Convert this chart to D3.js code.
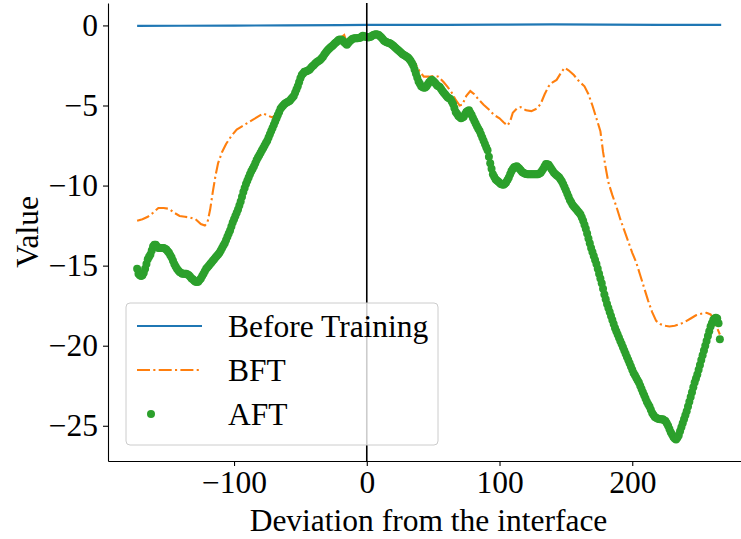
<!DOCTYPE html>
<html>
<head>
<meta charset="utf-8">
<script src="https://cdn.jsdelivr.net/npm/d3@7"></script>
<style>
  html, body { margin: 0; padding: 0; background: #fff; }
  svg { display: block; }
  text { font-family: "Liberation Serif", "Times New Roman", serif; fill: #000; }
</style>
</head>
<body>
<svg id="chart" width="741" height="539"></svg>
<script>
// Baseline profile (before training): flat near zero
const beforeX = [-173, -140, -100, -60, -20, 0, 20, 60, 100, 140, 180, 220, 267];
const beforeY = [-0.03, -0.02, -0.01, 0.0, 0.02, 0.03, 0.03, 0.04, 0.05, 0.06, 0.05, 0.04, 0.03];

// BFT profile
const bftX = [-173, -169, -165, -161, -157, -153, -149, -145, -141, -137, -133, -129, -125, -122, -120,
  -118, -116, -114, -112, -109, -106, -102, -98, -94, -90, -86, -82, -78, -74, -71, -68, -64, -61,
  -57, -53, -49, -45, -41, -37, -33, -29, -25, -21, -17, -15, -11, -7, -3, 1, 5, 9, 13, 17, 21, 25,
  29, 33, 36, 40, 43, 47, 51, 54, 58, 61, 64, 67, 70, 72, 75, 78, 81, 84, 88, 92, 96, 100, 103, 106,
  108, 110, 113, 116, 120, 124, 128, 131, 134, 137, 140, 143, 146, 149, 152, 156, 160, 164, 167, 170,
  173, 176, 178, 180, 182, 185, 188, 191, 194, 197, 200, 203, 206, 209, 212, 215, 218, 221, 224, 228,
  232, 236, 240, 244, 248, 252, 256, 259, 261, 263, 266];
const bftY = [-12.2, -12.1, -11.95, -11.7, -11.4, -11.4, -11.45, -11.7, -11.9, -11.95, -12.0, -12.1, -12.4, -12.5, -12.3,
  -11.5, -10.4, -9.4, -8.6, -7.9, -7.4, -6.9, -6.5, -6.3, -6.1, -5.9, -5.7, -5.5, -5.65, -5.75, -5.5, -5.15, -4.9,
  -4.6, -4.0, -3.1, -2.85, -2.55, -2.25, -1.95, -1.5, -1.15, -0.85, -0.6, -1.1, -0.85, -0.75, -0.65, -0.7, -0.55, -0.55, -0.9, -1.1, -1.3, -1.6,
  -1.85, -2.1, -2.3, -2.9, -3.2, -3.2, -3.15, -3.2, -3.55, -3.85, -4.2, -4.65, -5.0, -4.95, -4.4, -4.1, -4.3, -4.6, -4.95, -5.25, -5.6, -5.8, -6.05, -6.25,
  -6.0, -5.45, -5.2, -5.1, -5.3, -5.35, -5.2, -4.9, -4.3, -3.8, -3.55, -3.4, -3.0, -2.65, -2.8, -3.1, -3.5, -3.8, -4.3, -5.0,
  -5.8, -6.6, -7.9, -8.9, -9.8, -10.6, -11.3, -12.1, -12.8, -13.5, -14.2, -14.8, -15.6, -16.4, -17.2, -17.9, -18.45, -18.65, -18.75, -18.8,
  -18.75, -18.65, -18.5, -18.3, -18.1, -18.0, -17.95, -18.05, -18.3, -18.7, -19.3];

// AFT profile, one sample per unit from -173 to 266
const aftStart = -173, aftStep = 1;
const aftY = [
  -15.2, -15.5, -15.6, -15.65, -15.6, -15.45, -15.2, -14.9, -14.6, -14.45,
  -14.3, -14.05, -13.8, -13.7, -13.7, -13.8, -13.9, -13.9, -13.9, -13.9,
  -13.9, -13.95, -14.0, -14.1, -14.2, -14.35, -14.5, -14.7, -14.9, -15.05,
  -15.2, -15.3, -15.4, -15.45, -15.5, -15.5, -15.5, -15.5, -15.55, -15.6,
  -15.7, -15.8, -15.85, -15.95, -16.0, -16.02, -16.0, -15.9, -15.8, -15.65,
  -15.5, -15.35, -15.2, -15.1, -15.0, -14.9, -14.8, -14.7, -14.6, -14.5,
  -14.4, -14.3, -14.2, -14.05, -13.9, -13.75, -13.6, -13.4, -13.2, -13.0,
  -12.8, -12.55, -12.3, -12.1, -11.9, -11.7, -11.5, -11.25, -11.0, -10.7,
  -10.4, -10.15, -9.9, -9.7, -9.5, -9.3, -9.1, -8.95, -8.8, -8.6,
  -8.4, -8.25, -8.1, -7.95, -7.8, -7.65, -7.5, -7.35, -7.2, -7.0,
  -6.8, -6.6, -6.4, -6.2, -6.0, -5.8, -5.6, -5.4, -5.2, -5.1,
  -5.0, -4.9, -4.85, -4.8, -4.75, -4.7, -4.6, -4.5, -4.4, -4.2,
  -4.0, -3.8, -3.55, -3.3, -3.1, -3.0, -2.9, -2.88, -2.85, -2.8,
  -2.75, -2.65, -2.55, -2.48, -2.4, -2.32, -2.25, -2.2, -2.15, -2.05,
  -1.95, -1.82, -1.7, -1.6, -1.5, -1.42, -1.35, -1.28, -1.2, -1.12,
  -1.05, -0.97, -0.9, -0.88, -0.9, -0.97, -1.05, -1.13, -1.2, -1.1,
  -1.0, -0.92, -0.85, -0.82, -0.8, -0.8, -0.8, -0.78, -0.77, -0.7,
  -0.65, -0.67, -0.7, -0.72, -0.75, -0.73, -0.7, -0.65, -0.6, -0.57,
  -0.55, -0.57, -0.6, -0.67, -0.75, -0.85, -0.95, -1.0, -1.05, -1.08,
  -1.1, -1.15, -1.2, -1.27, -1.35, -1.42, -1.5, -1.57, -1.65, -1.72,
  -1.8, -1.85, -1.9, -1.95, -2.0, -2.1, -2.2, -2.35, -2.5, -2.75,
  -3.0, -3.25, -3.5, -3.65, -3.8, -3.85, -3.9, -3.87, -3.8, -3.68,
  -3.55, -3.47, -3.4, -3.47, -3.55, -3.65, -3.75, -3.8, -3.85, -3.97,
  -4.1, -4.2, -4.3, -4.4, -4.5, -4.55, -4.6, -4.75, -4.9, -5.15,
  -5.4, -5.52, -5.65, -5.72, -5.8, -5.75, -5.7, -5.55, -5.4, -5.35,
  -5.3, -5.45, -5.6, -5.78, -5.95, -6.12, -6.3, -6.45, -6.6, -6.8,
  -7.0, -7.2, -7.4, -7.6, -7.8, -8.2, -8.6, -8.95, -9.3, -9.45,
  -9.6, -9.68, -9.75, -9.82, -9.9, -9.93, -9.95, -9.88, -9.8, -9.65,
  -9.5, -9.3, -9.1, -8.97, -8.85, -8.82, -8.8, -8.87, -8.95, -9.05,
  -9.15, -9.2, -9.25, -9.28, -9.3, -9.3, -9.3, -9.3, -9.3, -9.3,
  -9.3, -9.3, -9.3, -9.25, -9.2, -9.08, -8.95, -8.8, -8.65, -8.67,
  -8.7, -8.82, -8.95, -9.08, -9.2, -9.28, -9.35, -9.42, -9.5, -9.62,
  -9.75, -9.92, -10.1, -10.3, -10.5, -10.7, -10.9, -11.05, -11.2, -11.3,
  -11.4, -11.5, -11.6, -11.7, -11.8, -12.0, -12.2, -12.45, -12.7, -13.0,
  -13.3, -13.6, -13.9, -14.15, -14.4, -14.65, -14.9, -15.2, -15.5, -15.8,
  -16.1, -16.45, -16.8, -17.1, -17.4, -17.65, -17.9, -18.15, -18.4, -18.65,
  -18.9, -19.1, -19.3, -19.5, -19.7, -19.9, -20.1, -20.3, -20.5, -20.7,
  -20.9, -21.1, -21.3, -21.5, -21.7, -21.85, -22.0, -22.15, -22.3, -22.5,
  -22.7, -22.9, -23.1, -23.3, -23.5, -23.65, -23.8, -24.0, -24.2, -24.33,
  -24.45, -24.5, -24.55, -24.58, -24.6, -24.6, -24.6, -24.65, -24.7, -24.85,
  -25.0, -25.2, -25.4, -25.55, -25.7, -25.8, -25.85, -25.75, -25.6, -25.35,
  -25.1, -24.85, -24.6, -24.35, -24.1, -23.8, -23.5, -23.2, -22.9, -22.6,
  -22.3, -22.05, -21.8, -21.5, -21.2, -20.9, -20.6, -20.3, -20.0, -19.7,
  -19.4, -19.1, -18.8, -18.6, -18.4, -18.3, -18.25, -18.3, -18.6, -19.6
];

const xTicks = [-100, 0, 100, 200];
const yTicks = [0, -5, -10, -15, -20, -25];
const seriesNames = ["Before Training", "BFT", "AFT"];
const colors = ["#1f77b4", "#ff7f0e", "#2ca02c"];

const FONT = '"Liberation Serif", "Times New Roman", serif';
const FS = "31.5px";
const DASHDOT = "13,3.3,2.1,3.3";

const svg = d3.select("#chart");
const plot = { left: 108, right: 749, top: 3, bottom: 461 };

const x = d3.scaleLinear().domain([-194.95, 287.95]).range([plot.left, plot.right]);
const y = d3.scaleLinear().domain([-27.2, 1.4]).range([plot.bottom, plot.top]);

const fmt = d => (d < 0 ? "\u2212" + Math.abs(d) : String(d));

// Axes (left and bottom spines only)
const xAxis = svg.append("g")
  .attr("transform", `translate(0,${plot.bottom})`)
  .call(d3.axisBottom(x).tickValues(xTicks).tickFormat(fmt).tickSize(5).tickPadding(5).tickSizeOuter(0));
const yAxis = svg.append("g")
  .attr("transform", `translate(${plot.left},0)`)
  .call(d3.axisLeft(y).tickValues(yTicks).tickFormat(fmt).tickSize(5).tickPadding(5).tickSizeOuter(0));
[xAxis, yAxis].forEach(g => {
  g.select(".domain").attr("stroke", "#000").attr("stroke-width", 1.1);
  g.selectAll(".tick line").attr("stroke", "#000").attr("stroke-width", 1.1);
  g.selectAll(".tick text").style("font-family", FONT)
    .style("font-size", FS).attr("fill", "#000");
});

// Axis titles
svg.append("text")
  .attr("x", (plot.left + plot.right) / 2).attr("y", 531)
  .attr("text-anchor", "middle").style("font-size", FS)
  .text("Deviation from the interface");
svg.append("text")
  .attr("transform", `translate(38,${(plot.top + plot.bottom) / 2}) rotate(-90)`)
  .attr("text-anchor", "middle").style("font-size", FS)
  .text("Value");

const line = d3.line().x(d => x(d[0])).y(d => y(d[1]));

// Before training
svg.append("path")
  .datum(beforeX.map((v, i) => [v, beforeY[i]]))
  .attr("d", line).attr("fill", "none")
  .attr("stroke", colors[0]).attr("stroke-width", 2.2);

// BFT (dash-dot)
svg.append("path")
  .datum(bftX.map((v, i) => [v, bftY[i]]))
  .attr("d", line).attr("fill", "none")
  .attr("stroke", colors[1]).attr("stroke-width", 2.1)
  .attr("stroke-dasharray", DASHDOT);

// AFT markers
svg.append("g").selectAll("circle")
  .data(aftY.map((v, i) => [aftStart + i * aftStep, v]))
  .join("circle")
  .attr("cx", d => x(d[0])).attr("cy", d => y(d[1]))
  .attr("r", 4).attr("fill", colors[2]);

// Interface marker at x = 0
svg.append("line")
  .attr("x1", x(0)).attr("x2", x(0))
  .attr("y1", plot.top).attr("y2", plot.bottom)
  .attr("stroke", "#000").attr("stroke-width", 1.6);

// Legend
const lg = svg.append("g").attr("transform", "translate(126,303)");
lg.append("rect")
  .attr("x", 0).attr("y", 0).attr("width", 312).attr("height", 142).attr("rx", 4)
  .attr("fill", "#fff").attr("fill-opacity", 0.8)
  .attr("stroke", "#cccccc").attr("stroke-width", 1);
const rowY = [23, 67, 111];
lg.append("line").attr("x1", 11).attr("x2", 76).attr("y1", rowY[0]).attr("y2", rowY[0])
  .attr("stroke", colors[0]).attr("stroke-width", 2.2);
lg.append("line").attr("x1", 11).attr("x2", 76).attr("y1", rowY[1]).attr("y2", rowY[1])
  .attr("stroke", colors[1]).attr("stroke-width", 2.1).attr("stroke-dasharray", DASHDOT);
lg.append("circle").attr("cx", 25).attr("cy", rowY[2]).attr("r", 4).attr("fill", colors[2]);
seriesNames.forEach((name, i) => {
  lg.append("text").attr("x", 102).attr("y", rowY[i] + 11)
    .style("font-size", FS).text(name);
});
</script>
</body>
</html>
